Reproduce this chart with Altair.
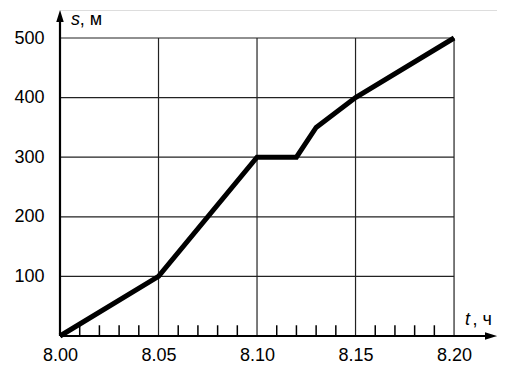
import altair as alt
import pandas as pd

# data
t_vals = [8.00, 8.05, 8.10, 8.12, 8.13, 8.15, 8.20]
s_vals = [0, 100, 300, 300, 350, 400, 500]
x_ticks = [8.00, 8.05, 8.10, 8.15, 8.20]
y_ticks = [100, 200, 300, 400, 500]
minor_ticks = [8.01, 8.02, 8.03, 8.04, 8.06, 8.07, 8.08, 8.09,
               8.11, 8.12, 8.13, 8.14, 8.16, 8.17, 8.18, 8.19]

X_MAX = 8.2218
Y_MAX = 547
X_DOM = [8.00, X_MAX]
Y_DOM = [0, Y_MAX]

xs = alt.Scale(domain=X_DOM, nice=False, zero=False)
ys = alt.Scale(domain=Y_DOM, nice=False, zero=False)

line_df = pd.DataFrame({"t": t_vals, "s": s_vals})
vgrid = pd.DataFrame({"t": x_ticks[1:], "s0": 0, "s1": 500})
hgrid = pd.DataFrame({"s": y_ticks, "t0": 8.00, "t1": 8.20})
minor_df = pd.DataFrame({"t": minor_ticks, "s0": 0, "s1": 18})

xaxis = alt.Axis(values=x_ticks, format=".2f", grid=False, ticks=False, domain=False,
                 labelFontSize=18, labelFont="Liberation Sans", labelColor="black",
                 labelPadding=10, labelFlush=False, title=None)
yaxis = alt.Axis(values=y_ticks, format="d", grid=False, ticks=False, domain=False,
                 labelFontSize=18, labelFont="Liberation Sans", labelColor="black",
                 labelPadding=16, labelFlush=False, title=None)

base_axes = alt.Chart(pd.DataFrame({"t": [8.0], "s": [0]})).mark_point(opacity=0).encode(
    x=alt.X("t:Q", scale=xs, axis=xaxis),
    y=alt.Y("s:Q", scale=ys, axis=yaxis),
)

vg = alt.Chart(vgrid).mark_rule(color="#222", strokeWidth=1.2).encode(
    x=alt.X("t:Q", scale=xs), y=alt.Y("s0:Q", scale=ys), y2="s1:Q")
hg = alt.Chart(hgrid).mark_rule(color="#222", strokeWidth=1.2).encode(
    y=alt.Y("s:Q", scale=ys), x=alt.X("t0:Q", scale=xs), x2="t1:Q")
mt = alt.Chart(minor_df).mark_rule(color="black", strokeWidth=1.5).encode(
    x=alt.X("t:Q", scale=xs), y=alt.Y("s0:Q", scale=ys), y2="s1:Q")

xaxis_line = alt.Chart(pd.DataFrame({"t0": [8.00], "t1": [X_MAX - 0.004], "s": [0]})).mark_rule(
    color="black", strokeWidth=2.2).encode(
    x=alt.X("t0:Q", scale=xs), x2="t1:Q", y=alt.Y("s:Q", scale=ys))
yaxis_line = alt.Chart(pd.DataFrame({"t": [8.00], "s0": [0], "s1": [Y_MAX - 10]})).mark_rule(
    color="black", strokeWidth=2.2).encode(
    x=alt.X("t:Q", scale=xs), y=alt.Y("s0:Q", scale=ys), y2="s1:Q")

x_arrow = alt.Chart(pd.DataFrame({"t": [X_MAX], "s": [0]})).mark_point(
    shape="M0,0L-2,-0.62L-2,0.62Z", size=144, filled=True, color="black", opacity=1).encode(
    x=alt.X("t:Q", scale=xs), y=alt.Y("s:Q", scale=ys))
y_arrow = alt.Chart(pd.DataFrame({"t": [8.00], "s": [Y_MAX]})).mark_point(
    shape="M0,0L-0.62,2L0.62,2Z", size=144, filled=True, color="black", opacity=1).encode(
    x=alt.X("t:Q", scale=xs), y=alt.Y("s:Q", scale=ys))

main_line = alt.Chart(line_df).mark_line(color="black", strokeWidth=5, strokeJoin="miter").encode(
    x=alt.X("t:Q", scale=xs), y=alt.Y("s:Q", scale=ys))

labels = pd.DataFrame({
    "t": [8.0056, 8.0100, 8.2056, 8.2094],
    "s": [530, 530, 27, 27],
    "txt": ["s", ", м", "t", ", ч"],
    "style": ["italic", "normal", "italic", "normal"],
})
lab_it = alt.Chart(labels[labels["style"] == "italic"]).mark_text(
    align="left", baseline="middle", fontSize=18, fontStyle="italic",
    font="Liberation Sans", color="black").encode(
    x=alt.X("t:Q", scale=xs), y=alt.Y("s:Q", scale=ys), text="txt:N")
lab_n = alt.Chart(labels[labels["style"] == "normal"]).mark_text(
    align="left", baseline="middle", fontSize=18,
    font="Liberation Sans", color="black").encode(
    x=alt.X("t:Q", scale=xs), y=alt.Y("s:Q", scale=ys), text="txt:N")

chart = alt.layer(base_axes, vg, hg, mt, xaxis_line, yaxis_line, main_line,
                  x_arrow, y_arrow, lab_it, lab_n).properties(
    width=437, height=326,
    autosize=alt.AutoSizeParams(type="none"),
    padding={"left": 52, "top": 2, "right": 0, "bottom": 27},
).configure_view(stroke=None).configure(background="white")

chart.save("out.html", embed_options={"renderer": "svg", "actions": False})
